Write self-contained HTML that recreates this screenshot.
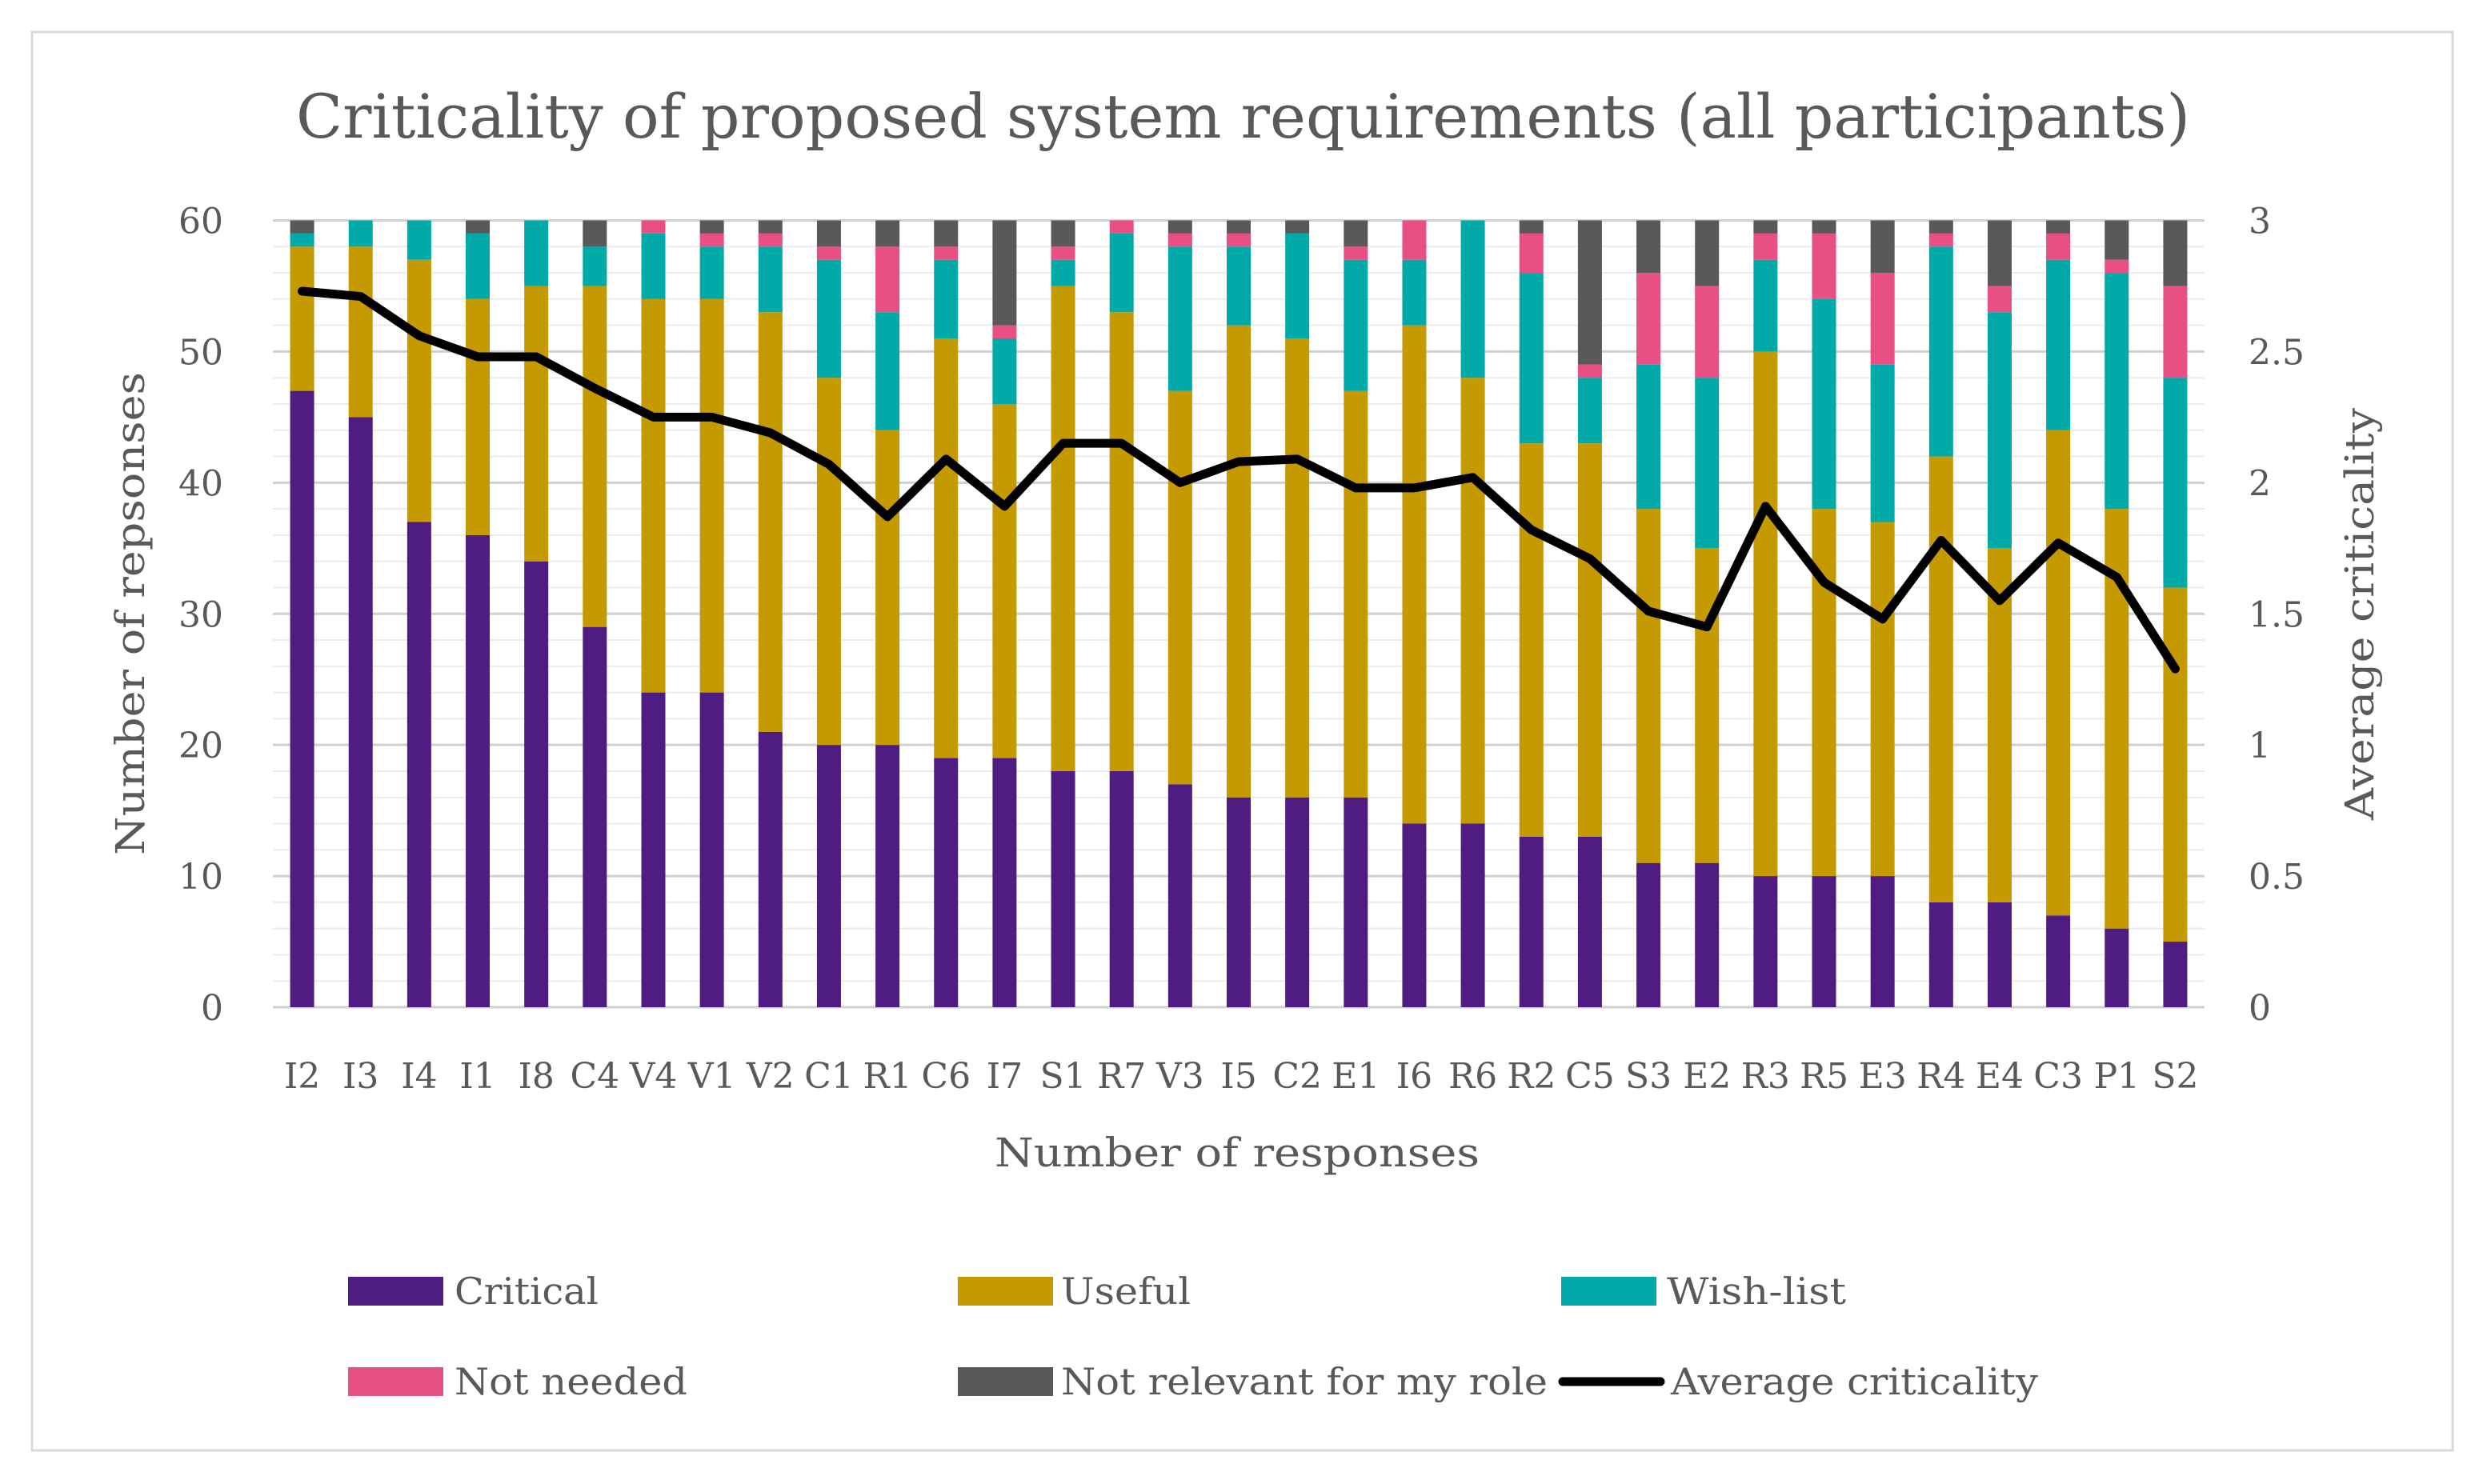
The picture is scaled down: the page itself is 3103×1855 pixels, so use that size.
<!DOCTYPE html>
<html><head><meta charset="utf-8"><style>
html,body{margin:0;padding:0;background:#fff;}
svg{display:block;}
text{font-family:"DejaVu Serif","Liberation Serif",serif;fill:#595959;}
</style></head><body>
<svg id="chart" width="3103" height="1855" viewBox="0 0 3103 1855" xmlns="http://www.w3.org/2000/svg">
<rect x="40" y="40" width="3025" height="1773" fill="#fff" stroke="#d9d9d9" stroke-width="3"/>
<text x="370" y="172" font-size="76" textLength="2367" lengthAdjust="spacingAndGlyphs">Criticality of proposed  system requirements (all participants)</text>
<g id="grid"></g>
<g id="bars"></g>
<g id="line"></g>
<g id="axes"></g>
<text transform="translate(180,1069) rotate(-90)" font-size="50" textLength="604" lengthAdjust="spacingAndGlyphs">Number of repsonses</text>
<text transform="translate(2966,1025) rotate(-90)" font-size="50" textLength="515" lengthAdjust="spacingAndGlyphs">Average criticality</text>
<text x="1243" y="1458" font-size="50" textLength="606" lengthAdjust="spacingAndGlyphs">Number of responses</text>
<g>
<g><rect x="435" y="1596" width="119" height="36" fill="#4f1c82"/><text x="568" y="1630" font-size="46" textLength="180" lengthAdjust="spacingAndGlyphs">Critical</text></g>
<g><rect x="1197" y="1596" width="119" height="36" fill="#c59a00"/><text x="1326" y="1630" font-size="46" textLength="162" lengthAdjust="spacingAndGlyphs">Useful</text></g>
<g><rect x="1951" y="1596" width="119" height="36" fill="#00aaa8"/><text x="2083" y="1630" font-size="46" textLength="224" lengthAdjust="spacingAndGlyphs">Wish-list</text></g>
<g><rect x="435" y="1709" width="119" height="36" fill="#e84f84"/><text x="568" y="1743" font-size="46" textLength="291" lengthAdjust="spacingAndGlyphs">Not needed</text></g>
<g><rect x="1197" y="1709" width="119" height="36" fill="#595959"/><text x="1326" y="1743" font-size="46" textLength="608" lengthAdjust="spacingAndGlyphs">Not relevant for my role</text></g>
<g><line x1="1953" y1="1727" x2="2075" y2="1727" stroke="#000" stroke-width="11" stroke-linecap="round"/><text x="2088" y="1743" font-size="46" textLength="459" lengthAdjust="spacingAndGlyphs">Average criticality</text></g>
</g>
</svg>
<script>
const categories=["I2","I3","I4","I1","I8","C4","V4","V1","V2","C1","R1","C6","I7","S1","R7","V3","I5","C2","E1","I6","R6","R2","C5","S3","E2","R3","R5","E3","R4","E4","C3","P1","S2"];
const critical=[47,45,37,36,34,29,24,24,21,20,20,19,19,18,18,17,16,16,16,14,14,13,13,11,11,10,10,10,8,8,7,6,5];
const useful=[11,13,20,18,21,26,30,30,32,28,24,32,27,37,35,30,36,35,31,38,34,30,30,27,24,40,28,27,34,27,37,32,27];
const wishList=[1,2,3,5,5,3,5,4,5,9,9,6,5,2,6,11,6,8,10,5,12,13,5,11,13,7,16,12,16,18,13,18,16];
const notNeeded=[0,0,0,0,0,0,1,1,1,1,5,1,1,1,1,1,1,0,1,3,0,3,1,7,7,2,5,7,1,2,2,1,7];
const notRelevant=[1,0,0,1,0,2,0,1,1,2,2,2,8,2,0,1,1,1,2,0,0,1,11,4,5,1,1,4,1,5,1,3,5];
const average=[2.73,2.71,2.56,2.48,2.48,2.36,2.25,2.25,2.19,2.07,1.87,2.09,1.91,2.15,2.15,2.0,2.08,2.09,1.98,1.98,2.02,1.82,1.71,1.51,1.45,1.91,1.62,1.48,1.78,1.55,1.77,1.64,1.29];
const leftTicks=[0,10,20,30,40,50,60];
const rightTicks=["0","0.5","1","1.5","2","2.5","3"];

const NS="http://www.w3.org/2000/svg";
const L=341,R=2755,Y0=1259,Y60=275.5,BW=30;
const band=(R-L)/categories.length;
const xC=i=>L+band*(i+0.5);
const yL=v=>Y0-(Y0-Y60)*v/60;
const yR=v=>Y0-(Y0-Y60)*v/3;
function mk(tag,attrs,parent){const e=document.createElementNS(NS,tag);for(const k in attrs)e.setAttribute(k,attrs[k]);parent.appendChild(e);return e;}
const grid=document.getElementById('grid'),bars=document.getElementById('bars'),axes=document.getElementById('axes'),lineG=document.getElementById('line');
for(let v=0;v<=60;v+=2){
  const g=mk('line',{x1:L,x2:R,y1:yL(v),y2:yL(v),stroke:v%10===0?'#d0d0d0':'#ebebeb','stroke-width':v%10===0?3:2},grid);
  
  
}
leftTicks.forEach(v=>{
  const t=mk('text',{x:279,y:yL(v)+16,'font-size':44,'text-anchor':'end'},axes);t.textContent=v;
  
  
});
rightTicks.forEach((s,i)=>{
  const t=mk('text',{x:2810,y:yR(i*0.5)+16,'font-size':44,'text-anchor':'start'},axes);t.textContent=s;
  
  
});
const series=[[critical,'#4f1c82','critical'],[useful,'#c59a00','useful'],[wishList,'#00aaa8','wish-list'],[notNeeded,'#e84f84','not-needed'],[notRelevant,'#595959','not-relevant']];
categories.forEach((c,i)=>{
  let base=0;
  series.forEach(([arr,col,nm])=>{
    const v=arr[i];
    if(v>0){
      const r=mk('rect',{x:xC(i)-BW/2,y:yL(base+v),width:BW,height:yL(base)-yL(base+v),fill:col},bars);
      
      
    }
    base+=v;
  });
  const t=mk('text',{x:xC(i),y:1360,'font-size':44,'text-anchor':'middle'},axes);t.textContent=c;
  
  
});
const pts=average.map((v,i)=>xC(i)+','+yR(v)).join(' ');
const pl=mk('polyline',{points:pts,fill:'none',stroke:'#000','stroke-width':11,'stroke-linejoin':'round','stroke-linecap':'round'},lineG);


</script>
</body></html>
